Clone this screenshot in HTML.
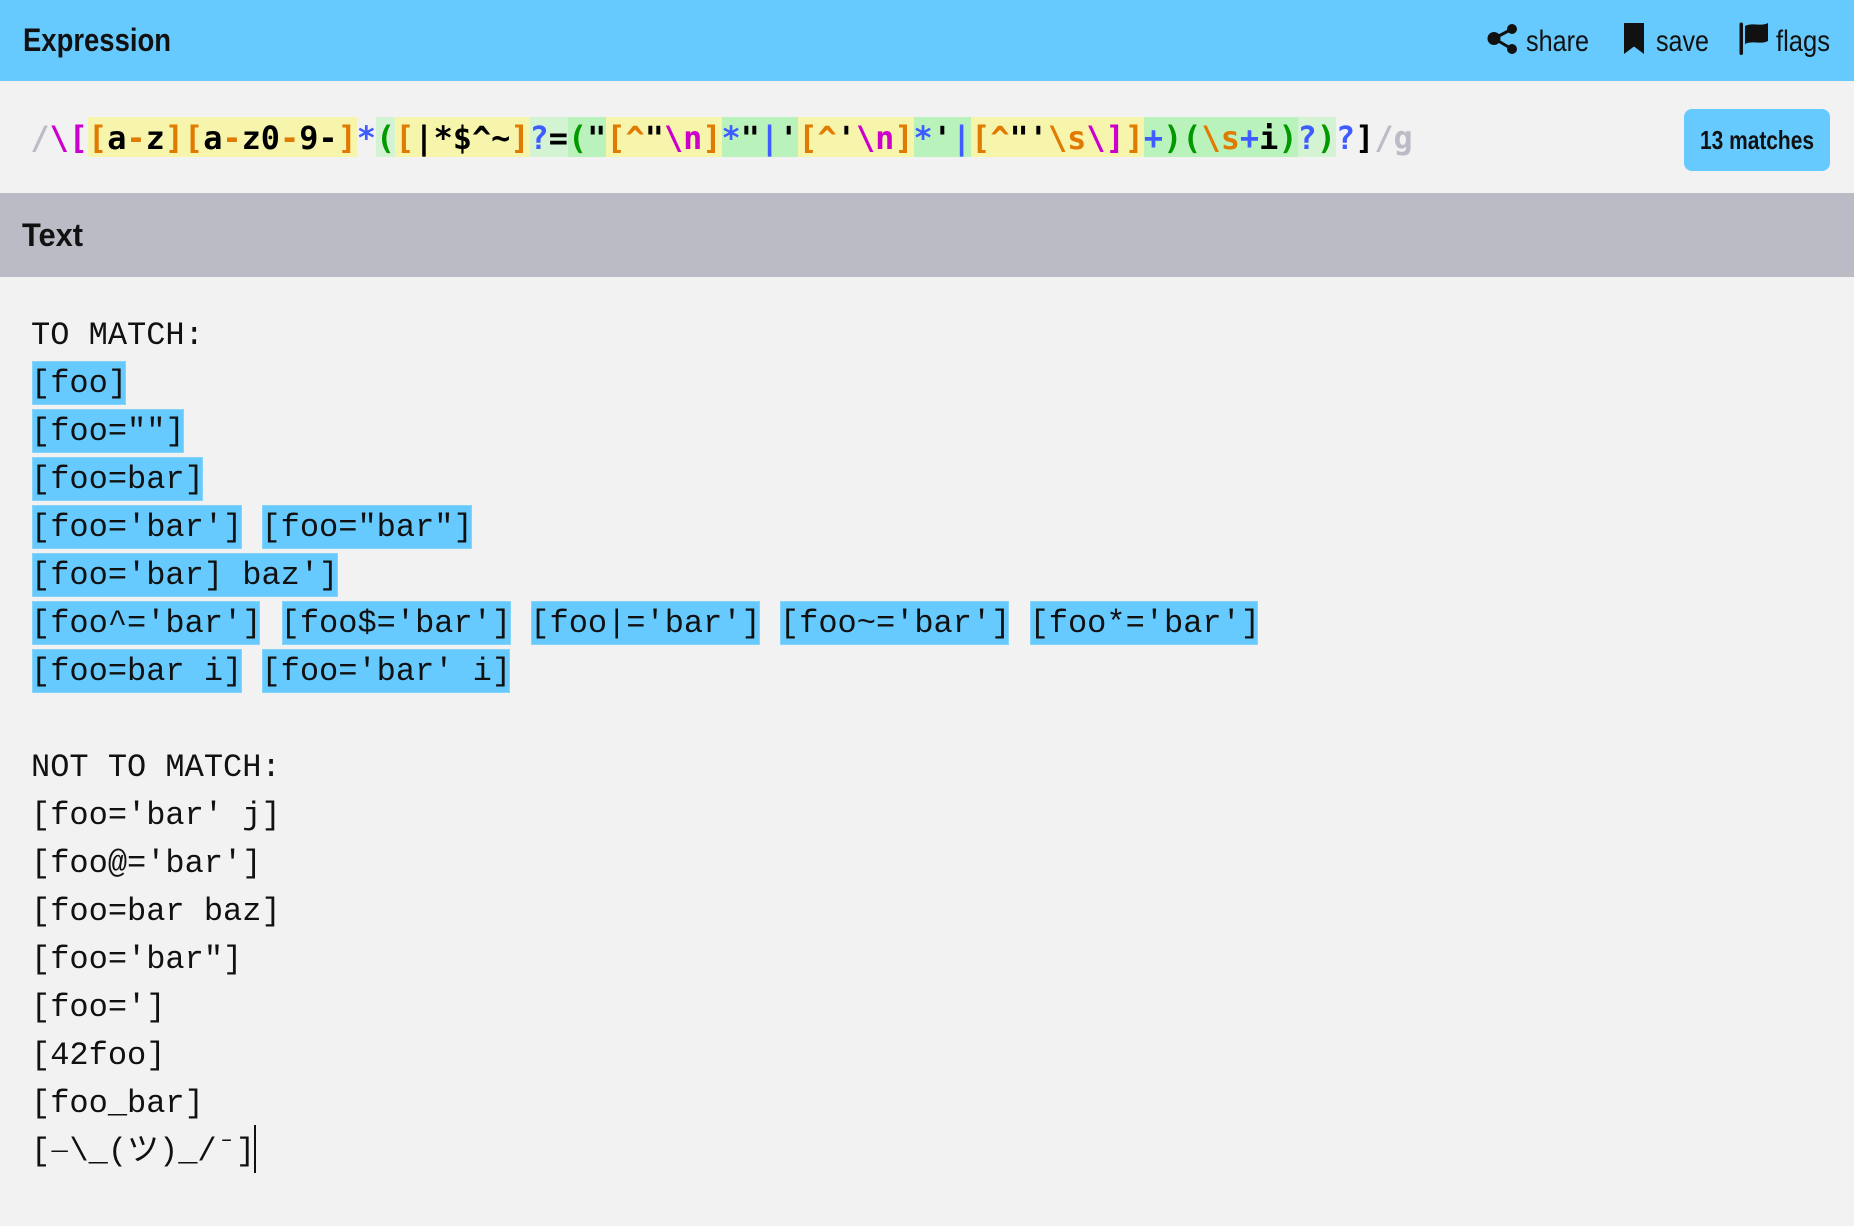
<!DOCTYPE html>
<html><head><meta charset="utf-8"><style>
html,body{margin:0;padding:0;width:1854px;height:1226px;overflow:hidden;background:#f2f2f2}
.abs,.y,.l,.d,.m{position:absolute}
.y,.l,.d{top:117px;height:40px}
.y{background:#f7f5ac}.l{background:#d3f3d3}.d{background:#baf2bc}
.m{background:#66caff;height:42px;border:1px solid #86d4fb;box-sizing:content-box}
pre{position:absolute;margin:0;font-family:"Liberation Mono","Noto Sans CJK JP",monospace;font-size:32px}
#re{left:30.4px;top:114px;line-height:48px;font-family:"DejaVu Sans Mono",monospace;font-size:31.89px;font-weight:bold;color:#000}
#tx{left:31px;top:311.5px;line-height:48px;color:#111}
.g{color:#bbbcc5}.e{color:#cc00cc}.o{color:#e07a00}.b{color:#3e5cff}.n{color:#009900}
.s1,.s2{position:relative;display:inline-block}
.s1{top:16px;transform:scaleX(.85)}
.s2{top:5px;transform:scaleX(.45)}
svg{position:absolute;left:0;top:0}
</style></head><body>
<div class="abs" style="left:0;top:0;width:1854px;height:81px;background:#66caff"></div>
<div class="abs" style="left:0;top:193px;width:1854px;height:84px;background:#babbc4"></div>
<div class="abs" style="left:1684px;top:109px;width:146px;height:62px;border-radius:8px;background:#66caff"></div>

<div class="y" style="left:88px;width:268.8px"></div>
<div class="l" style="left:376px;width:19.2px"></div>
<div class="y" style="left:395.2px;width:134.4px"></div>
<div class="l" style="left:529.6px;width:38.4px"></div>
<div class="d" style="left:568px;width:38.4px"></div>
<div class="y" style="left:606.4px;width:115.2px"></div>
<div class="d" style="left:721.6px;width:76.8px"></div>
<div class="y" style="left:798.4px;width:115.2px"></div>
<div class="d" style="left:913.6px;width:57.6px"></div>
<div class="y" style="left:971.2px;width:172.8px"></div>
<div class="d" style="left:1144px;width:153.6px"></div>
<div class="l" style="left:1297.6px;width:38.4px"></div>

<pre id="re"><span class="g">/</span><span class="e">\[</span><span class="o">[</span>a<span class="o">-</span>z<span class="o">][</span>a<span class="o">-</span>z0<span class="o">-</span>9-<span class="o">]</span><span class="b">*</span><span class="n">(</span><span class="o">[</span>|*$^~<span class="o">]</span><span class="b">?</span>=<span class="n">(</span>"<span class="o">[^</span>"<span class="e">\n</span><span class="o">]</span><span class="b">*</span>"<span class="b">|</span>'<span class="o">[^</span>'<span class="e">\n</span><span class="o">]</span><span class="b">*</span>'<span class="b">|</span><span class="o">[^</span>"'<span class="o">\s</span><span class="e">\]</span><span class="o">]</span><span class="b">+</span><span class="n">)(</span><span class="o">\s</span><span class="b">+</span>i<span class="n">)</span><span class="b">?</span><span class="n">)</span><span class="b">?</span>]<span class="g">/g</span></pre>

<div class="m" style="left:31.6px;top:361px;width:92.4px"></div>
<div class="m" style="left:31.6px;top:409px;width:150.4px"></div>
<div class="m" style="left:31.6px;top:457px;width:169.4px"></div>
<div class="m" style="left:31.6px;top:505px;width:208.4px"></div>
<div class="m" style="left:262px;top:505px;width:208.2px"></div>
<div class="m" style="left:31.6px;top:553px;width:304.4px"></div>
<div class="m" style="left:31.6px;top:601px;width:226.6px"></div>
<div class="m" style="left:282px;top:601px;width:226.6px"></div>
<div class="m" style="left:531px;top:601px;width:226.8px"></div>
<div class="m" style="left:780.4px;top:601px;width:227px"></div>
<div class="m" style="left:1030px;top:601px;width:226.4px"></div>
<div class="m" style="left:31.6px;top:649px;width:208.4px"></div>
<div class="m" style="left:262px;top:649px;width:246.2px"></div>

<pre id="tx">TO MATCH:
[foo]
[foo=""]
[foo=bar]
[foo='bar'] [foo="bar"]
[foo='bar] baz']
[foo^='bar'] [foo$='bar'] [foo|='bar'] [foo~='bar'] [foo*='bar']
[foo=bar i] [foo='bar' i]

NOT TO MATCH:
[foo='bar' j]
[foo@='bar']
[foo=bar baz]
[foo='bar"]
[foo=']
[42foo]
[foo_bar]
[<span class="s1">¯</span>\_(ツ)_/<span class="s2">¯</span>]</pre>
<div class="abs" style="left:254px;top:1125px;width:2px;height:48px;background:#111"></div>

<svg width="1854" height="1226" font-family="'Liberation Sans',sans-serif" fill="#111">
<text x="23" y="51" font-size="32" font-weight="bold" textLength="148" lengthAdjust="spacingAndGlyphs">Expression</text>
<text x="22" y="246" font-size="32" font-weight="bold" textLength="61" lengthAdjust="spacingAndGlyphs">Text</text>
<text x="1526" y="51" font-size="30" textLength="63" lengthAdjust="spacingAndGlyphs">share</text>
<text x="1656" y="51" font-size="30" textLength="53" lengthAdjust="spacingAndGlyphs">save</text>
<text x="1776" y="51" font-size="30" textLength="54" lengthAdjust="spacingAndGlyphs">flags</text>
<text x="1700" y="149" font-size="26" font-weight="bold" textLength="114" lengthAdjust="spacingAndGlyphs">13 matches</text>
<g stroke="#111" stroke-width="3"><line x1="1494" y1="38.5" x2="1512" y2="29"/><line x1="1494" y1="38.5" x2="1512" y2="49"/></g>
<circle cx="1494" cy="38.5" r="6.5"/><circle cx="1512" cy="29" r="5"/><circle cx="1512" cy="49" r="5"/>
<path d="M1624 23H1644V54L1634 46.5L1624 54Z"/>
<rect x="1739.5" y="22.5" width="3.5" height="32.5" rx="1.7"/>
<path d="M1745 26C1752 22 1760 27 1768 23V41C1760 45 1752 40 1745 44Z"/>
</svg>
</body></html>
